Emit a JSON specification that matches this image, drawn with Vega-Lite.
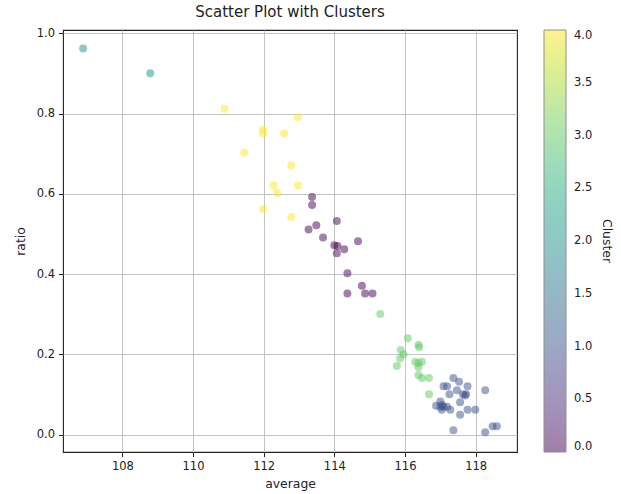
{
  "$schema": "https://vega.github.io/schema/vega-lite/v6.json",
  "autosize": {"type": "none"},
  "padding": {"left": 63, "top": 30, "right": 104, "bottom": 42},
  "width": 454,
  "height": 422,
  "title": {"text": "Scatter Plot with Clusters", "font": "DejaVu Sans", "fontSize": 15, "fontWeight": "normal", "color": "#222", "anchor": "middle", "offset": 7},
  "config": {
    "font": "DejaVu Sans",
    "view": {"stroke": "#222", "strokeWidth": 1.1},
    "axis": {
      "domain": false,
      "grid": true,
      "gridColor": "#c4c4c4",
      "gridWidth": 1,
      "tickColor": "#222",
      "tickSize": 4.5,
      "tickWidth": 1,
      "labelFont": "DejaVu Sans",
      "labelFontSize": 11.5,
      "labelColor": "#222",
      "labelPadding": 4,
      "titleFont": "DejaVu Sans",
      "titleFontSize": 12.4,
      "titleFontWeight": "normal",
      "titleColor": "#222"
    }
  },
  "data": {"values": [
    {"average": 106.89, "ratio": 0.962, "cluster": 2},
    {"average": 108.79, "ratio": 0.900, "cluster": 2},
    {"average": 110.89, "ratio": 0.812, "cluster": 4},
    {"average": 112.97, "ratio": 0.791, "cluster": 4},
    {"average": 111.98, "ratio": 0.760, "cluster": 4},
    {"average": 111.98, "ratio": 0.751, "cluster": 4},
    {"average": 112.58, "ratio": 0.751, "cluster": 4},
    {"average": 111.45, "ratio": 0.702, "cluster": 4},
    {"average": 112.78, "ratio": 0.671, "cluster": 4},
    {"average": 112.28, "ratio": 0.621, "cluster": 4},
    {"average": 112.97, "ratio": 0.621, "cluster": 4},
    {"average": 112.38, "ratio": 0.602, "cluster": 4},
    {"average": 111.98, "ratio": 0.562, "cluster": 4},
    {"average": 112.78, "ratio": 0.542, "cluster": 4},
    {"average": 113.37, "ratio": 0.592, "cluster": 0},
    {"average": 113.37, "ratio": 0.572, "cluster": 0},
    {"average": 114.07, "ratio": 0.532, "cluster": 0},
    {"average": 113.49, "ratio": 0.522, "cluster": 0},
    {"average": 113.27, "ratio": 0.511, "cluster": 0},
    {"average": 113.68, "ratio": 0.491, "cluster": 0},
    {"average": 114.00, "ratio": 0.472, "cluster": 0},
    {"average": 114.09, "ratio": 0.470, "cluster": 0},
    {"average": 114.28, "ratio": 0.462, "cluster": 0},
    {"average": 114.07, "ratio": 0.452, "cluster": 0},
    {"average": 114.67, "ratio": 0.482, "cluster": 0},
    {"average": 114.37, "ratio": 0.402, "cluster": 0},
    {"average": 114.78, "ratio": 0.371, "cluster": 0},
    {"average": 114.37, "ratio": 0.352, "cluster": 0},
    {"average": 114.87, "ratio": 0.352, "cluster": 0},
    {"average": 115.08, "ratio": 0.352, "cluster": 0},
    {"average": 115.30, "ratio": 0.301, "cluster": 3},
    {"average": 116.08, "ratio": 0.240, "cluster": 3},
    {"average": 116.38, "ratio": 0.224, "cluster": 3},
    {"average": 116.40, "ratio": 0.218, "cluster": 3},
    {"average": 115.88, "ratio": 0.211, "cluster": 3},
    {"average": 115.96, "ratio": 0.200, "cluster": 3},
    {"average": 115.86, "ratio": 0.190, "cluster": 3},
    {"average": 116.29, "ratio": 0.182, "cluster": 3},
    {"average": 116.48, "ratio": 0.182, "cluster": 3},
    {"average": 116.38, "ratio": 0.178, "cluster": 3},
    {"average": 115.77, "ratio": 0.171, "cluster": 3},
    {"average": 116.38, "ratio": 0.168, "cluster": 3},
    {"average": 116.38, "ratio": 0.149, "cluster": 3},
    {"average": 116.48, "ratio": 0.141, "cluster": 3},
    {"average": 116.68, "ratio": 0.141, "cluster": 3},
    {"average": 116.68, "ratio": 0.101, "cluster": 3},
    {"average": 117.37, "ratio": 0.141, "cluster": 1},
    {"average": 117.53, "ratio": 0.132, "cluster": 1},
    {"average": 117.09, "ratio": 0.121, "cluster": 1},
    {"average": 117.19, "ratio": 0.121, "cluster": 1},
    {"average": 117.77, "ratio": 0.121, "cluster": 1},
    {"average": 117.47, "ratio": 0.111, "cluster": 1},
    {"average": 118.27, "ratio": 0.111, "cluster": 1},
    {"average": 117.26, "ratio": 0.101, "cluster": 1},
    {"average": 117.64, "ratio": 0.101, "cluster": 1},
    {"average": 117.73, "ratio": 0.101, "cluster": 1},
    {"average": 117.70, "ratio": 0.098, "cluster": 1},
    {"average": 117.00, "ratio": 0.083, "cluster": 1},
    {"average": 117.56, "ratio": 0.081, "cluster": 1},
    {"average": 116.88, "ratio": 0.072, "cluster": 1},
    {"average": 117.00, "ratio": 0.070, "cluster": 1},
    {"average": 117.09, "ratio": 0.070, "cluster": 1},
    {"average": 117.19, "ratio": 0.070, "cluster": 1},
    {"average": 117.05, "ratio": 0.074, "cluster": 1},
    {"average": 117.04, "ratio": 0.062, "cluster": 1},
    {"average": 117.28, "ratio": 0.062, "cluster": 1},
    {"average": 117.77, "ratio": 0.062, "cluster": 1},
    {"average": 117.99, "ratio": 0.062, "cluster": 1},
    {"average": 117.56, "ratio": 0.050, "cluster": 1},
    {"average": 117.37, "ratio": 0.011, "cluster": 1},
    {"average": 118.27, "ratio": 0.006, "cluster": 1},
    {"average": 118.48, "ratio": 0.021, "cluster": 1},
    {"average": 118.60, "ratio": 0.021, "cluster": 1}
  ]},
  "mark": {"type": "circle", "size": 64, "opacity": 0.5},
  "encoding": {
    "x": {
      "field": "average", "type": "quantitative",
      "scale": {"domain": [106.32, 119.17], "nice": false, "zero": false},
      "axis": {"values": [108, 110, 112, 114, 116, 118], "title": "average", "titlePadding": 5}
    },
    "y": {
      "field": "ratio", "type": "quantitative",
      "scale": {"domain": [-0.043, 1.008], "nice": false, "zero": false},
      "axis": {"values": [0, 0.2, 0.4, 0.6, 0.8, 1.0], "format": ".1f", "title": "ratio", "titlePadding": 9}
    },
    "color": {
      "field": "cluster", "type": "quantitative",
      "scale": {"scheme": "viridis", "domain": [0, 4]},
      "legend": {
        "orient": "none",
        "legendX": 481,
        "legendY": 0,
        "padding": 0,
        "direction": "vertical",
        "gradientLength": 422,
        "gradientThickness": 22,
        "gradientStrokeColor": "#222",
        "gradientStrokeWidth": 1,
        "values": [0, 0.5, 1, 1.5, 2, 2.5, 3, 3.5, 4],
        "format": ".1f",
        "labelOverlap": false,
        "labelFont": "DejaVu Sans",
        "labelFontSize": 11.5,
        "labelColor": "#222",
        "labelOffset": 8,
        "title": "Cluster",
        "titleOrient": "right",
        "titleAngle": 90,
        "titleAnchor": "middle",
        "titleBaseline": "bottom",
        "titlePadding": 8,
        "titleFont": "DejaVu Sans",
        "titleFontSize": 12.4,
        "titleFontWeight": "normal",
        "titleColor": "#222",
        "encode": {
          "gradient": {"update": {"opacity": {"value": 0.5}}}
        }
      }
    }
  }
}
